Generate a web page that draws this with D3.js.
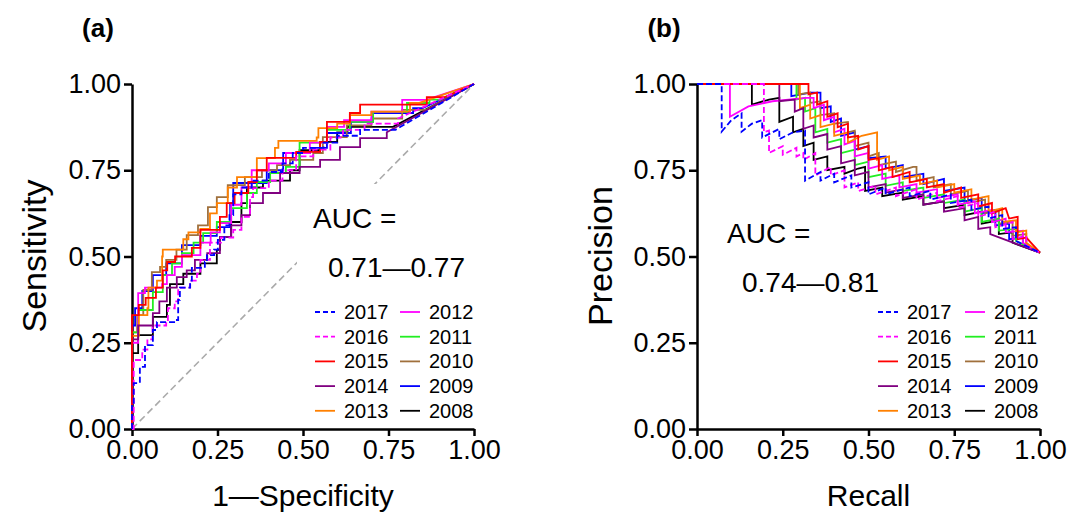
<!DOCTYPE html>
<html>
<head>
<meta charset="utf-8">
<script src="https://cdn.jsdelivr.net/npm/d3@7"></script>
<style>
body { margin: 0; background: #fff; }
svg { display: block; font-family: "Liberation Sans", Arial, Helvetica, sans-serif; }
.axis path, .axis line { stroke: #000; stroke-width: 2.5; }
.axis text { font-size: 27px; fill: #000; font-family: "Liberation Sans", Arial, sans-serif; }
</style>
</head>
<body>
<svg width="1069" height="513"></svg>
<script>
// legend order (column 1 then column 2)
var years = ["2017", "2016", "2015", "2014", "2013", "2012", "2011", "2010", "2009", "2008"];
var ticks = [0, 0.25, 0.5, 0.75, 1];

// ROC step corners [1-specificity, sensitivity]; last point joined straight
var roc2017 = [[0,0],[0,0.07],[0.005,0.133],[0.023,0.18],[0.038,0.243],[0.061,0.287],[0.073,0.31],[0.126,0.316],[0.135,0.374],[0.14,0.41],[0.17,0.43],[0.175,0.467],[0.213,0.484],[0.219,0.504],[0.24,0.52],[0.251,0.548],[0.27,0.59],[0.285,0.62],[0.296,0.68],[0.32,0.70],[0.35,0.72],[0.40,0.745],[0.44,0.77],[0.47,0.80],[0.5,0.815],[0.56,0.83],[0.6,0.85],[0.667,0.867],[0.77,0.867],[1,1]];
var roc2016 = [[0,0],[0.005,0.2],[0.03,0.23],[0.045,0.26],[0.06,0.30],[0.1,0.31],[0.105,0.35],[0.125,0.37],[0.135,0.41],[0.17,0.43],[0.19,0.45],[0.2,0.49],[0.228,0.54],[0.26,0.555],[0.296,0.577],[0.32,0.615],[0.345,0.672],[0.354,0.698],[0.4,0.72],[0.44,0.75],[0.48,0.79],[0.53,0.81],[0.58,0.845],[0.617,0.867],[0.68,0.885],[0.778,0.90],[1,1]];
var roc2015 = [[0,0],[0,0.33],[0.02,0.36],[0.04,0.38],[0.07,0.41],[0.09,0.46],[0.103,0.484],[0.126,0.5],[0.175,0.525],[0.2,0.577],[0.257,0.615],[0.277,0.655],[0.3,0.684],[0.34,0.716],[0.365,0.75],[0.394,0.786],[0.48,0.803],[0.55,0.832],[0.57,0.89],[0.637,0.916],[0.667,0.94],[0.862,0.962],[0.915,0.962],[1,1]];
var roc2014 = [[0,0],[0,0.26],[0.018,0.30],[0.061,0.336],[0.08,0.37],[0.102,0.41],[0.131,0.44],[0.16,0.46],[0.184,0.49],[0.22,0.51],[0.257,0.557],[0.29,0.59],[0.32,0.62],[0.345,0.655],[0.383,0.684],[0.433,0.742],[0.49,0.76],[0.55,0.78],[0.608,0.817],[0.667,0.843],[0.745,0.86],[1,1]];
var roc2013 = [[0,0],[0,0.27],[0.02,0.33],[0.045,0.35],[0.048,0.41],[0.073,0.43],[0.088,0.5],[0.09,0.52],[0.15,0.55],[0.165,0.57],[0.2,0.58],[0.228,0.625],[0.248,0.655],[0.28,0.7],[0.307,0.73],[0.365,0.785],[0.418,0.815],[0.428,0.835],[0.54,0.845],[0.545,0.872],[0.6,0.885],[0.637,0.91],[0.7,0.92],[0.813,0.945],[0.84,0.945],[1,1]];
var roc2012 = [[0,0],[0,0.25],[0.018,0.394],[0.038,0.41],[0.088,0.42],[0.102,0.446],[0.125,0.47],[0.146,0.504],[0.2,0.54],[0.23,0.57],[0.257,0.597],[0.29,0.65],[0.32,0.70],[0.35,0.75],[0.4,0.77],[0.45,0.80],[0.52,0.83],[0.57,0.876],[0.62,0.895],[0.7,0.92],[0.79,0.954],[0.86,0.954],[1,1]];
var roc2011 = [[0,0],[0,0.28],[0.018,0.345],[0.061,0.397],[0.09,0.446],[0.117,0.48],[0.146,0.51],[0.18,0.54],[0.208,0.568],[0.248,0.6],[0.29,0.64],[0.336,0.684],[0.365,0.716],[0.404,0.742],[0.45,0.76],[0.49,0.83],[0.57,0.867],[0.637,0.89],[0.705,0.919],[0.804,0.945],[0.87,0.955],[0.9,0.955],[1,1]];
var roc2010 = [[0,0],[0,0.28],[0.015,0.33],[0.033,0.403],[0.058,0.455],[0.082,0.47],[0.1,0.49],[0.13,0.52],[0.16,0.562],[0.193,0.59],[0.222,0.643],[0.248,0.672],[0.28,0.707],[0.33,0.73],[0.38,0.75],[0.424,0.765],[0.462,0.78],[0.53,0.80],[0.558,0.846],[0.628,0.88],[0.7,0.9],[0.79,0.925],[0.86,0.925],[1,1]];
var roc2009 = [[0,0],[0,0.30],[0.009,0.35],[0.03,0.40],[0.061,0.446],[0.1,0.48],[0.146,0.533],[0.2,0.56],[0.248,0.585],[0.287,0.655],[0.296,0.713],[0.394,0.75],[0.442,0.80],[0.52,0.815],[0.57,0.858],[0.64,0.89],[0.705,0.916],[0.822,0.93],[0.85,0.93],[1,1]];
var roc2008 = [[0,0],[0,0.22],[0.018,0.272],[0.061,0.325],[0.102,0.36],[0.111,0.42],[0.15,0.45],[0.2,0.48],[0.248,0.519],[0.257,0.557],[0.29,0.6],[0.32,0.655],[0.336,0.70],[0.383,0.72],[0.462,0.75],[0.49,0.808],[0.55,0.832],[0.6,0.86],[0.63,0.876],[0.763,0.876],[1,1]];

// PR vertices [recall, precision]
var pr2017 = [[0,1],[0.072,1],[0.072,0.862],[0.10,0.895],[0.13,0.915],[0.13,0.862],[0.16,0.885],[0.19,0.895],[0.19,0.845],[0.24,0.87],[0.24,0.84],[0.28,0.86],[0.315,0.865],[0.315,0.72],[0.36,0.745],[0.36,0.72],[0.40,0.74],[0.40,0.715],[0.45,0.735],[0.45,0.70],[0.5,0.715],[0.5,0.68],[0.55,0.70],[0.55,0.68],[0.62,0.70],[0.62,0.675],[0.68,0.69],[0.68,0.665],[0.74,0.68],[0.74,0.655],[0.80,0.665],[0.80,0.635],[0.85,0.645],[0.85,0.61],[0.89,0.62],[0.89,0.58],[0.93,0.585],[0.93,0.545],[1,0.511]];
var pr2016 = [[0,1],[0.195,1],[0.195,0.86],[0.21,0.865],[0.21,0.80],[0.25,0.82],[0.25,0.795],[0.29,0.815],[0.29,0.79],[0.31,0.80],[0.31,0.78],[0.345,0.80],[0.345,0.735],[0.39,0.76],[0.39,0.735],[0.43,0.75],[0.43,0.70],[0.47,0.715],[0.47,0.69],[0.52,0.705],[0.52,0.68],[0.58,0.70],[0.58,0.675],[0.64,0.695],[0.64,0.665],[0.7,0.685],[0.7,0.66],[0.76,0.675],[0.76,0.64],[0.82,0.655],[0.82,0.615],[0.87,0.63],[0.87,0.585],[0.92,0.60],[0.92,0.55],[0.96,0.56],[0.96,0.53],[1,0.511]];
var pr2015 = [[0,1],[0.325,1],[0.325,0.97],[0.35,0.975],[0.35,0.94],[0.38,0.95],[0.38,0.905],[0.41,0.915],[0.41,0.875],[0.44,0.885],[0.44,0.845],[0.47,0.85],[0.47,0.81],[0.50,0.82],[0.50,0.78],[0.53,0.785],[0.53,0.75],[0.57,0.76],[0.57,0.73],[0.62,0.745],[0.62,0.715],[0.67,0.725],[0.67,0.70],[0.72,0.71],[0.72,0.685],[0.77,0.70],[0.77,0.67],[0.82,0.68],[0.82,0.645],[0.86,0.655],[0.86,0.625],[0.9,0.64],[0.91,0.61],[0.935,0.615],[0.935,0.55],[0.96,0.555],[1,0.511]];
var pr2014 = [[0,1],[0.24,1],[0.24,0.95],[0.285,0.955],[0.285,0.92],[0.31,0.93],[0.31,0.87],[0.34,0.88],[0.34,0.845],[0.38,0.855],[0.38,0.81],[0.42,0.82],[0.42,0.77],[0.46,0.78],[0.46,0.735],[0.50,0.745],[0.50,0.70],[0.55,0.71],[0.55,0.685],[0.60,0.695],[0.60,0.67],[0.66,0.68],[0.66,0.65],[0.72,0.66],[0.72,0.63],[0.78,0.64],[0.78,0.605],[0.82,0.615],[0.82,0.58],[0.855,0.585],[0.855,0.565],[1,0.511]];
var pr2013 = [[0,1],[0.30,1],[0.30,0.93],[0.33,0.94],[0.33,0.90],[0.36,0.91],[0.36,0.875],[0.40,0.885],[0.40,0.85],[0.44,0.86],[0.44,0.83],[0.48,0.85],[0.525,0.86],[0.525,0.78],[0.56,0.79],[0.56,0.75],[0.60,0.76],[0.60,0.725],[0.65,0.735],[0.65,0.71],[0.70,0.72],[0.70,0.70],[0.75,0.71],[0.75,0.685],[0.80,0.695],[0.80,0.665],[0.85,0.675],[0.85,0.63],[0.89,0.64],[0.89,0.60],[0.93,0.605],[0.93,0.57],[0.96,0.575],[0.96,0.54],[1,0.511]];
var pr2012 = [[0,1],[0.096,1],[0.096,0.905],[0.15,0.935],[0.22,0.95],[0.32,0.96],[0.34,0.96],[0.34,0.93],[0.37,0.94],[0.37,0.895],[0.40,0.905],[0.40,0.86],[0.43,0.87],[0.43,0.825],[0.46,0.835],[0.46,0.79],[0.50,0.80],[0.50,0.755],[0.54,0.765],[0.54,0.725],[0.59,0.735],[0.59,0.70],[0.64,0.71],[0.64,0.685],[0.70,0.695],[0.70,0.67],[0.76,0.68],[0.76,0.65],[0.81,0.66],[0.81,0.625],[0.86,0.635],[0.86,0.60],[0.9,0.61],[0.9,0.57],[0.95,0.575],[0.95,0.54],[1,0.511]];
var pr2011 = [[0,1],[0.29,1],[0.29,0.955],[0.315,0.96],[0.315,0.92],[0.345,0.93],[0.345,0.86],[0.38,0.87],[0.38,0.83],[0.42,0.84],[0.42,0.80],[0.46,0.81],[0.46,0.765],[0.50,0.775],[0.50,0.73],[0.55,0.74],[0.55,0.705],[0.6,0.715],[0.6,0.69],[0.66,0.70],[0.66,0.67],[0.72,0.68],[0.72,0.655],[0.78,0.665],[0.78,0.63],[0.83,0.64],[0.83,0.60],[0.88,0.61],[0.88,0.575],[0.93,0.58],[0.93,0.545],[1,0.511]];
var pr2010 = [[0,1],[0.295,1],[0.295,0.97],[0.33,0.975],[0.33,0.945],[0.36,0.95],[0.36,0.91],[0.40,0.915],[0.40,0.885],[0.44,0.89],[0.44,0.86],[0.46,0.865],[0.46,0.82],[0.5,0.83],[0.5,0.79],[0.53,0.80],[0.53,0.765],[0.58,0.775],[0.58,0.745],[0.63,0.76],[0.64,0.76],[0.64,0.72],[0.69,0.73],[0.69,0.70],[0.74,0.71],[0.74,0.68],[0.79,0.69],[0.79,0.655],[0.84,0.665],[0.84,0.625],[0.88,0.635],[0.88,0.595],[0.92,0.60],[0.92,0.56],[0.96,0.565],[0.96,0.535],[1,0.511]];
var pr2009 = [[0,1],[0.275,1],[0.275,0.965],[0.33,0.975],[0.36,0.975],[0.36,0.93],[0.39,0.935],[0.39,0.89],[0.42,0.90],[0.42,0.85],[0.46,0.86],[0.46,0.81],[0.50,0.82],[0.50,0.785],[0.55,0.79],[0.55,0.755],[0.6,0.765],[0.6,0.73],[0.66,0.74],[0.66,0.71],[0.72,0.725],[0.72,0.69],[0.78,0.70],[0.78,0.66],[0.83,0.67],[0.83,0.625],[0.87,0.635],[0.87,0.59],[0.91,0.595],[0.91,0.55],[0.95,0.555],[0.95,0.53],[1,0.511]];
var pr2008 = [[0,1],[0.16,1],[0.16,0.94],[0.21,0.955],[0.24,0.96],[0.24,0.89],[0.28,0.905],[0.28,0.86],[0.31,0.87],[0.31,0.82],[0.34,0.83],[0.34,0.78],[0.38,0.79],[0.38,0.75],[0.43,0.76],[0.43,0.74],[0.47,0.755],[0.49,0.76],[0.49,0.69],[0.54,0.70],[0.54,0.675],[0.6,0.685],[0.6,0.665],[0.66,0.675],[0.66,0.65],[0.72,0.66],[0.72,0.64],[0.78,0.65],[0.78,0.62],[0.83,0.63],[0.83,0.595],[0.88,0.605],[0.88,0.565],[0.92,0.57],[0.92,0.54],[1,0.511]];

var rocs = {"2017": roc2017, "2016": roc2016, "2015": roc2015, "2014": roc2014, "2013": roc2013,
            "2012": roc2012, "2011": roc2011, "2010": roc2010, "2009": roc2009, "2008": roc2008};
var prs = {"2017": pr2017, "2016": pr2016, "2015": pr2015, "2014": pr2014, "2013": pr2013,
           "2012": pr2012, "2011": pr2011, "2010": pr2010, "2009": pr2009, "2008": pr2008};

var colors = {"2017": "#0000ff", "2016": "#ff00ff", "2015": "#ff0000", "2014": "#800080", "2013": "#ff8000",
              "2012": "#ff00ff", "2011": "#22ee22", "2010": "#a0703c", "2009": "#0000ff", "2008": "#000000"};
var dashed = {"2017": true, "2016": true};

var svg = d3.select("svg");
svg.append("rect").attr("width", 1069).attr("height", 513).attr("fill", "#fff");

// step corners -> staircase vertices (horizontal then vertical), last leg straight
function stairs(pts) {
  var out = [pts[0]];
  for (var i = 1; i < pts.length; i++) {
    if (i < pts.length - 1) out.push([pts[i][0], pts[i - 1][1]]);
    out.push(pts[i]);
  }
  return out;
}

function panel(o) {
  var x = d3.scaleLinear().domain([0, 1]).range([o.left, o.right]);
  var y = d3.scaleLinear().domain([0, 1]).range([429, 84]);
  var g = svg.append("g");

  g.append("g").attr("class", "axis").attr("transform", "translate(0,429)")
    .call(d3.axisBottom(x).tickValues(ticks).tickFormat(d3.format(".2f")).tickSize(7).tickSizeOuter(0).tickPadding(4));
  g.append("g").attr("class", "axis").attr("transform", "translate(" + o.left + ",0)")
    .call(d3.axisLeft(y).tickValues(ticks).tickFormat(d3.format(".2f")).tickSize(8).tickSizeOuter(0).tickPadding(3));

  if (o.diag) {
    g.append("line")
      .attr("x1", x(0)).attr("y1", y(0)).attr("x2", x(1)).attr("y2", y(1))
      .attr("stroke", "#aaa").attr("stroke-width", 1.6).attr("stroke-dasharray", "7,4");
  }
  // white box behind the AUC note
  g.append("rect").attr("x", o.boxX).attr("y", o.boxY).attr("width", o.boxW).attr("height", o.boxH).attr("fill", "#fff");

  var line = d3.line().x(function(d) { return x(d[0]); }).y(function(d) { return y(d[1]); });
  years.slice().reverse().forEach(function(yr) {
    var pts = o.step ? stairs(o.data[yr]) : o.data[yr];
    g.append("path").datum(pts)
      .attr("d", line)
      .attr("fill", "none")
      .attr("stroke", colors[yr])
      .attr("stroke-width", 1.8)
      .attr("stroke-dasharray", dashed[yr] ? "6,3" : null);
  });

  // AUC note
  g.append("text").attr("x", o.aucX).attr("y", o.aucY).attr("font-size", 28).text("AUC =");
  g.append("text").attr("x", o.aucX + 15).attr("y", o.aucY + 49).attr("font-size", 28).text(o.range);

  // legend
  years.forEach(function(yr, i) {
    var col = Math.floor(i / 5), row = i % 5;
    var lx = o.legX + col * o.legCol, ly = 312 + row * 24.7;
    g.append("line").attr("x1", lx).attr("x2", lx + 20).attr("y1", ly).attr("y2", ly)
      .attr("stroke", colors[yr]).attr("stroke-width", 1.8)
      .attr("stroke-dasharray", dashed[yr] ? "5,3" : null);
    g.append("text").attr("x", lx + 29).attr("y", ly + 7).attr("font-size", 20).text(yr);
  });

  // titles
  g.append("text").attr("x", (o.left + o.right) / 2).attr("y", 506).attr("text-anchor", "middle")
    .attr("font-size", 30).text(o.xTitle);
  g.append("text").attr("transform", "translate(" + o.yTitleX + ",256) rotate(-90)")
    .attr("text-anchor", "middle").attr("font-size", 34).text(o.yTitle);
  g.append("text").attr("x", o.tagX).attr("y", 37).attr("text-anchor", "middle")
    .attr("font-size", 26).attr("font-weight", "bold").text(o.tag);
}

panel({left: 132, right: 474, data: rocs, step: true, diag: true,
  boxX: 297, boxY: 184, boxW: 176, boxH: 106,
  aucX: 313, aucY: 228, range: "0.71\u20140.77",
  legX: 315, legCol: 85,
  xTitle: "1\u2014Specificity", yTitle: "Sensitivity", yTitleX: 46, tag: "(a)", tagX: 98});

panel({left: 697, right: 1040, data: prs, step: false, diag: false,
  boxX: 0, boxY: 0, boxW: 0, boxH: 0,
  aucX: 727, aucY: 243, range: "0.74\u20140.81",
  legX: 878, legCol: 87,
  xTitle: "Recall", yTitle: "Precision", yTitleX: 612, tag: "(b)", tagX: 664});
</script>
</body>
</html>
